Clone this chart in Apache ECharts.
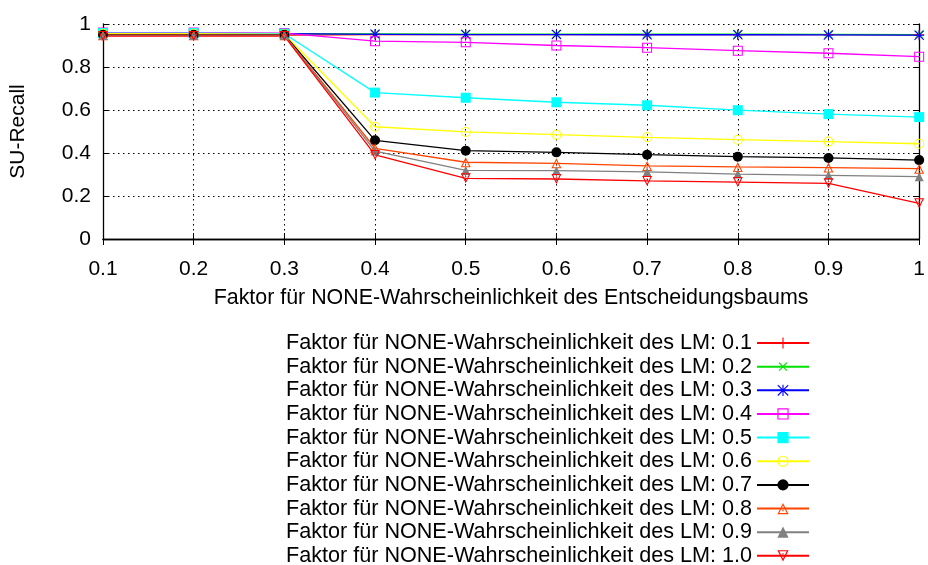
<!DOCTYPE html>
<html>
<head>
<meta charset="utf-8">
<script src="https://cdn.jsdelivr.net/npm/echarts@6/dist/echarts.min.js"></script>
<style>
  html, body { margin: 0; padding: 0; background: #fff; }
  #chart { width: 928px; height: 565px; }
</style>
</head>
<body>
<div id="chart"></div>
<script>
// x: factor for the NONE probability of the decision tree
const categories = ['0.1', '0.2', '0.3', '0.4', '0.5', '0.6', '0.7', '0.8', '0.9', '1'];
const yTicks = [0, 0.2, 0.4, 0.6, 0.8, 1];

// SU-Recall per LM NONE factor
const lm01 = [0.947, 0.947, 0.948, 0.951, 0.951, 0.951, 0.951, 0.951, 0.951, 0.950];
const lm02 = [0.955, 0.955, 0.955, 0.954, 0.953, 0.953, 0.953, 0.953, 0.952, 0.951];
const lm03 = [0.957, 0.957, 0.955, 0.952, 0.951, 0.951, 0.950, 0.950, 0.949, 0.948];
const lm04 = [0.960, 0.960, 0.958, 0.920, 0.915, 0.900, 0.890, 0.876, 0.864, 0.848];
const lm05 = [0.958, 0.958, 0.955, 0.681, 0.657, 0.636, 0.622, 0.599, 0.581, 0.567];
const lm06 = [0.955, 0.955, 0.952, 0.522, 0.498, 0.485, 0.473, 0.462, 0.453, 0.443];
const lm07 = [0.950, 0.950, 0.950, 0.459, 0.411, 0.403, 0.392, 0.383, 0.377, 0.367];
const lm08 = [0.948, 0.948, 0.948, 0.422, 0.357, 0.352, 0.340, 0.335, 0.332, 0.327];
const lm09 = [0.947, 0.947, 0.947, 0.409, 0.319, 0.318, 0.312, 0.302, 0.296, 0.290];
const lm10 = [0.944, 0.944, 0.944, 0.391, 0.282, 0.279, 0.270, 0.265, 0.259, 0.166];

const seriesNames = [
  'Faktor für NONE-Wahrscheinlichkeit des LM: 0.1',
  'Faktor für NONE-Wahrscheinlichkeit des LM: 0.2',
  'Faktor für NONE-Wahrscheinlichkeit des LM: 0.3',
  'Faktor für NONE-Wahrscheinlichkeit des LM: 0.4',
  'Faktor für NONE-Wahrscheinlichkeit des LM: 0.5',
  'Faktor für NONE-Wahrscheinlichkeit des LM: 0.6',
  'Faktor für NONE-Wahrscheinlichkeit des LM: 0.7',
  'Faktor für NONE-Wahrscheinlichkeit des LM: 0.8',
  'Faktor für NONE-Wahrscheinlichkeit des LM: 0.9',
  'Faktor für NONE-Wahrscheinlichkeit des LM: 1.0'
];
const seriesData = [lm01, lm02, lm03, lm04, lm05, lm06, lm07, lm08, lm09, lm10];

// point styles in gnuplot order
const PLUS = 'path://M4.5,0H5.5V4.5H10V5.5H5.5V10H4.5V5.5H0V4.5H4.5Z';
const STAR = 'path://M4.5,0H5.5V4.5H10V5.5H5.5V10H4.5V5.5H0V4.5H4.5Z' +
             'M0.7,0L10,9.3L9.3,10L0,0.7Z M9.3,0L10,0.7L0.7,10L0,9.3Z';
const BOX_DOT = 'path://M0,0H10V10H0Z M1,1V9H9V1Z M4.4,4.4H5.6V5.6H4.4Z';
const CIRCLE_DOT = 'path://M5,0A5,5 0 1,1 5,10A5,5 0 1,1 5,0Z M5,1A4,4 0 1,0 5,9A4,4 0 1,0 5,1Z M4.4,4.4H5.6V5.6H4.4Z';
const TRI_UP_DOT = 'path://M5,0L10,10L0,10Z M5,2.3L1.7,9L8.3,9Z M4.4,6.2H5.6V7.4H4.4Z';
const TRI_DOWN_DOT = 'path://M0,0L10,0L5,10Z M1.7,1L5,7.7L8.3,1Z M4.4,2.6H5.6V3.8H4.4Z';

const styles = [
  { color: '#ff0000', symbol: PLUS, size: 10, rotate: 0 },
  { color: '#00e000', symbol: PLUS, size: 11, rotate: 45 },
  { color: '#0000ff', symbol: STAR, size: 10, rotate: 0 },
  { color: '#ff00ff', symbol: BOX_DOT, size: 10, rotate: 0 },
  { color: '#00ffff', symbol: 'rect', size: 10, rotate: 0 },
  { color: '#ffff00', symbol: CIRCLE_DOT, size: 10, rotate: 0 },
  { color: '#000000', symbol: 'circle', size: 10, rotate: 0 },
  { color: '#ff4500', symbol: TRI_UP_DOT, size: 10, rotate: 0 },
  { color: '#808080', symbol: 'triangle', size: 9, rotate: 0 },
  { color: '#ff0000', symbol: TRI_DOWN_DOT, size: 10, rotate: 0 }
];

const FONT = 'Liberation Sans, Arial, sans-serif';

const series = seriesData.map((d, i) => ({
  name: seriesNames[i],
  type: 'line',
  xAxisIndex: 0,
  yAxisIndex: 0,
  data: d,
  symbol: styles[i].symbol,
  symbolSize: styles[i].size,
  symbolRotate: styles[i].rotate,
  showAllSymbol: true,
  lineStyle: { color: styles[i].color, width: 1.3 },
  itemStyle: { color: styles[i].color, borderWidth: 0 },
  emphasis: { disabled: true },
  animation: false
}));

// one key row per series, stacked below the plot
const legends = seriesNames.map((name, i) => ({
  orient: 'vertical',
  right: 118,
  top: 332 + i * 23.65,
  align: 'right',
  itemWidth: 52,
  itemHeight: 14,
  padding: 0,
  textStyle: { fontFamily: FONT, fontSize: 21.6, color: '#000' },
  data: [name]
}));

const gridLine = { show: true, lineStyle: { color: '#000', width: 1, type: [1.5, 3.5] } };

const chart = echarts.init(document.getElementById('chart'), null, { renderer: 'canvas' });
chart.setOption({
  backgroundColor: '#fff',
  animation: false,
  grid: { left: 103, right: 7, top: 24, bottom: 326, containLabel: false },
  legend: legends,
  xAxis: [
    {
      type: 'category',
      data: categories,
      boundaryGap: false,
      position: 'bottom',
      name: 'Faktor für NONE-Wahrscheinlichkeit des Entscheidungsbaums',
      nameLocation: 'middle',
      nameGap: 49,
      nameTextStyle: { fontFamily: FONT, fontSize: 21.4, color: '#000' },
      axisLine: { show: true, lineStyle: { color: '#000', width: 1.3 } },
      axisTick: { show: true, inside: true, length: 6, lineStyle: { color: '#000' } },
      axisLabel: { fontFamily: FONT, fontSize: 21, color: '#000', margin: 20 },
      splitLine: gridLine
    },
    {
      type: 'category',
      data: categories,
      boundaryGap: false,
      position: 'top',
      axisLine: { show: true, lineStyle: { color: '#000', width: 1.3 } },
      axisTick: { show: true, inside: true, length: 6, lineStyle: { color: '#000' } },
      axisLabel: { show: false },
      splitLine: { show: false }
    }
  ],
  yAxis: [
    {
      type: 'value',
      min: yTicks[0],
      max: yTicks[yTicks.length - 1],
      interval: 0.2,
      position: 'left',
      name: 'SU-Recall',
      nameLocation: 'middle',
      nameGap: 74,
      nameTextStyle: { fontFamily: FONT, fontSize: 21, color: '#000' },
      axisLine: { show: true, lineStyle: { color: '#000', width: 1.3 } },
      axisTick: { show: true, inside: true, length: 6, lineStyle: { color: '#000' } },
      axisLabel: { fontFamily: FONT, fontSize: 21, color: '#000', margin: 12 },
      splitLine: gridLine
    },
    {
      type: 'value',
      min: yTicks[0],
      max: yTicks[yTicks.length - 1],
      interval: 0.2,
      position: 'right',
      axisLine: { show: true, lineStyle: { color: '#000', width: 1.3 } },
      axisTick: { show: true, inside: true, length: 6, lineStyle: { color: '#000' } },
      axisLabel: { show: false },
      splitLine: { show: false }
    }
  ],
  series: series
});
</script>
</body>
</html>
